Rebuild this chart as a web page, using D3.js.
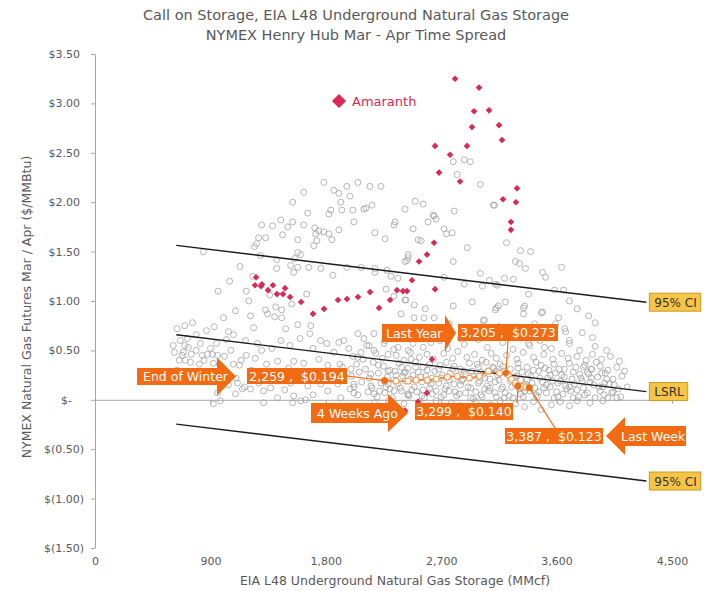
<!DOCTYPE html>
<html>
<head>
<meta charset="utf-8">
<script src="https://cdn.jsdelivr.net/npm/d3@7.9.0/dist/d3.min.js"></script>
<style>
  body { margin: 0; background: #fff; }
  svg { display: block; font-family: "DejaVu Sans", Verdana, sans-serif; }
</style>
</head>
<body>
<svg id="chart" width="717" height="591"></svg>
<script>
// ---- data (storage MMcf, Mar/Apr spread $/MMBtu) ----
const xTicks = [0, 900, 1800, 2700, 3600, 4500];
const yTicks = [-1.5, -1, -0.5, 0, 0.5, 1, 1.5, 2, 2.5, 3, 3.5];

// history, upper dome
const greyDome = [
  [1785,2.20],[1964,2.16],[2050,2.20],[2144,2.16],[2230,2.16],[1628,2.10],[1863,2.12],[1902,2.09],[1988,2.06],[1917,2.00],
  [1542,2.00],[2160,1.97],[2097,1.93],[2113,1.94],[2011,1.92],[1925,1.92],[1839,1.92],[1824,1.88],[1659,1.89],[2019,1.80],
  [1448,1.82],[1542,1.80],[1385,1.76],[1299,1.77],[1503,1.75],[1628,1.77],[1714,1.74],[1745,1.71],[1784,1.70],[1824,1.68],
  [1902,1.72],[1722,1.68],[1276,1.64],[1330,1.64],[1463,1.67],[1730,1.61],[1847,1.62],[1581,1.62],[1260,1.58],[1244,1.55],
  [1706,1.56],[2183,1.69],[2262,1.63],[2340,1.80],[2332,1.77],[2418,1.93],[2497,2.01],[2481,1.73],[2520,1.62],[845,1.50],
  [1581,1.49],[1604,1.47],[1291,1.46],[1417,1.42],[1557,1.43],[1526,1.36],[1581,1.34],[1667,1.34],[1761,1.33],[1964,1.34],
  [2074,1.34],[2183,1.33],[2183,1.29],[2277,1.31],[2309,1.25],[2363,1.23],[1417,1.33],[1550,1.29],[1855,1.26],[2270,1.12],
  [2332,1.05],[2418,1.01],[2442,1.44],[2434,1.41],[2489,0.96],[2387,0.87],[2489,0.83],[1651,1.07],[1534,0.97],[1409,0.94],
  [1456,0.91],[1330,0.91],[1346,0.87],[1401,0.84],[1456,0.83],[1096,0.90],[1002,0.83],[1213,0.85],[1362,1.06],[1050,1.20],
  [1130,1.35],[1180,1.10],[1230,1.25],[960,1.10],[1200,1.00]
];

// history, upper right
const greyRight = [
  [2794,2.41],[2880,2.43],[2927,2.41],[2825,2.28],[3005,2.18],[3107,1.97],[2802,1.91],[2559,1.98],[2637,1.87],[2661,1.83],
  [3115,1.97],[2645,1.86],[2598,1.80],[2723,1.73],[2786,1.69],[2740,1.68],[2418,1.40],[2442,1.47],[2543,1.61],[2904,1.54],
  [2794,1.40],[3209,1.59],[3318,1.51],[3397,1.50],[3279,1.40],[3310,1.38],[3357,1.33],[3639,1.34],[3490,1.29],[3514,1.24],
  [3005,1.28],[3193,1.23],[3263,1.22],[2880,1.17],[3021,1.15],[3076,1.21],[3123,1.17],[3138,1.16],[2723,1.24],[3584,1.11],
  [3655,1.11],[3381,1.07],[2426,1.01],[2942,0.99],[3123,0.91],[3146,0.95],[3201,0.99],[3350,0.95],[2794,0.95],[2575,0.92],
  [2645,0.83],[3037,0.81],[3342,0.87],[3490,0.89],[3428,0.77],[3615,0.83],[3592,0.77],[3522,0.73],[3663,0.72],[3670,0.69],
  [2567,0.83],[3130,0.93],[3342,0.93],[3482,0.88],[3028,0.80],[2762,0.77],[2410,0.67],[3381,0.57],[3506,0.53],[2560,0.70],
  [2950,0.72],[3150,0.74],[3400,0.70],[3580,0.73],[3800,0.68],[3880,0.63],[2700,0.66],[2850,0.62],[3250,0.65],[3700,0.60],
  [2620,0.58],[3050,0.64],[3700,1.00],[3760,0.92],[3850,0.85],[3900,0.78]
];

// history, left of the band
const greyLeft = [
  [665,0.60],[689,0.48],[658,0.40],[704,0.40],[751,0.46],[680,0.45],[728,0.53],[822,0.57],[877,0.46],[837,0.45],
  [916,0.46],[955,0.45],[814,0.36],[923,0.37],[970,0.36],[1581,0.76],[1683,0.75],[1675,0.67],[1487,0.72],[1237,0.73],
  [1041,0.69],[1080,0.66],[1025,0.61],[947,0.57],[1174,0.60],[1268,0.57],[1080,0.36],[1127,0.35],[1166,0.13],[1213,0.11],
  [1150,0.11],[1096,0.06],[978,-0.01],[923,-0.04],[1338,0.36],[1424,0.39],[1510,0.32],[1550,0.39],[1628,0.37],[1745,0.41],
  [1808,0.57],[1902,0.58],[1941,0.60],[2050,0.67],[2097,0.62],[2176,0.67],[2137,0.55],[2074,0.48],[1816,0.35],[1910,0.36],
  [1996,0.31],[2050,0.43],[1863,0.48],[2176,0.50],[2254,0.57],[2285,0.46],[2363,0.53],[2442,0.50],[2465,0.41],[1315,0.09],
  [1424,0.02],[1550,0.04],[1604,-0.01],[1315,-0.03],[1816,0.09],[1917,0.02],[2019,0.07],[2176,0.06],[2309,-0.01],[1659,0.14],
  [1761,0.16],[1894,0.16],[2019,0.16],[2152,0.14],[2285,0.16],[2332,0.09],[2442,0.06],[1111,0.17],[1276,0.17],[1424,0.19],
  [1526,0.17],[955,0.07],[1346,0.27],[1471,0.26],[1628,0.27],[1761,0.27],[1917,0.26],[2285,0.29],[2410,0.27],[640,0.72],
  [700,0.75],[760,0.78],[870,0.70],[930,0.74],[720,0.62],[790,0.66],[610,0.55],[640,0.30],[760,0.25],[860,0.22],
  [1000,0.28],[1040,0.15],[1100,0.22],[1180,0.45],[1250,0.42],[1300,0.50],[1380,0.52],[1450,0.60],[1520,0.55],[1600,0.62],
  [1700,0.52],[1760,0.60],[1542,-0.03],[1643,0.00],[620,0.48],[700,0.55],[745,0.38],[790,0.50],[850,0.40],[900,0.52],
  [1010,0.44],[1060,0.50],[1140,0.40],[1220,0.30],[1290,0.22],[1370,0.12],[1480,0.10],[1700,0.05],[1850,0.20],[1990,0.11]
];

// history, dense band
const greyBand = [
  [1980,0.52],[2120,0.55],[2260,0.60],[2330,0.51],[2480,0.57],[2560,0.53],[2690,0.60],[2750,0.52],[2880,0.56],[2990,0.61],
  [3060,0.53],[3180,0.58],[3260,0.51],[3390,0.55],[3470,0.60],[3560,0.52],[3700,0.57],[3780,0.50],[3900,0.54],[3990,0.50],
  [2010,0.44],[2090,0.41],[2190,0.47],[2240,0.42],[2350,0.45],[2410,0.40],[2460,0.48],[2530,0.43],[2590,0.46],[2640,0.41],
  [2720,0.47],[2790,0.42],[2830,0.49],[2900,0.43],[2960,0.46],[3020,0.40],[3090,0.47],[3130,0.42],[3210,0.45],[3290,0.41],
  [3340,0.48],[3420,0.43],[3500,0.46],[3570,0.41],[3640,0.47],[3690,0.42],[3760,0.44],[3830,0.40],[3880,0.46],[3950,0.41],
  [4020,0.44],[4090,0.39],[1930,0.33],[2040,0.36],[2110,0.31],[2170,0.38],[2250,0.34],[2300,0.30],[2370,0.37],[2440,0.32],
  [2500,0.38],[2560,0.33],[2610,0.36],[2680,0.31],[2740,0.38],[2800,0.34],[2850,0.31],[2920,0.37],[2990,0.33],[3050,0.38],
  [3110,0.32],[3160,0.36],[3240,0.31],[3300,0.37],[3370,0.33],[3440,0.38],[3510,0.32],[3580,0.36],[3620,0.31],[3700,0.37],
  [3750,0.33],[3820,0.35],[3870,0.31],[3940,0.34],[4000,0.30],[4070,0.33],[4130,0.29],[2000,0.24],[2060,0.28],[2140,0.22],
  [2210,0.27],[2280,0.23],[2340,0.29],[2400,0.24],[2460,0.21],[2520,0.28],[2580,0.24],[2650,0.29],[2700,0.22],[2770,0.27],
  [2830,0.23],[2880,0.29],[2950,0.24],[3010,0.28],[3080,0.21],[3140,0.25],[3190,0.29],[3270,0.23],[3330,0.28],[3400,0.24],
  [3460,0.29],[3530,0.22],[3590,0.27],[3660,0.23],[3730,0.28],[3790,0.22],[3850,0.26],[3920,0.23],[3980,0.27],[4040,0.21],
  [4110,0.24],[2020,0.13],[2080,0.18],[2160,0.12],[2230,0.17],[2300,0.11],[2360,0.16],[2420,0.19],[2490,0.13],[2550,0.18],
  [2610,0.12],[2680,0.17],[2730,0.11],[2800,0.16],[2860,0.19],[2930,0.12],[2990,0.17],[3040,0.11],[3120,0.18],[3180,0.13],
  [3240,0.19],[3310,0.11],[3360,0.16],[3430,0.12],[3490,0.18],[3550,0.13],[3610,0.17],[3680,0.11],[3740,0.16],[3810,0.12],
  [3860,0.18],[3930,0.13],[4010,0.16],[4080,0.11],[4150,0.13],[2050,0.05],[2130,0.08],[2200,0.03],[2260,0.07],[2320,0.02],
  [2390,0.09],[2450,0.04],[2510,0.08],[2570,0.02],[2630,0.06],[2700,0.03],[2760,0.09],[2820,0.04],[2890,0.07],[2950,0.01],
  [3010,0.05],[3070,0.09],[3130,0.03],[3200,0.07],[3260,0.02],[3320,0.06],[3390,0.09],[3450,0.03],[3520,0.07],[3580,0.02],
  [3650,0.06],[3710,0.09],[3770,0.03],[3840,0.07],[3900,0.02],[3970,0.05],[4040,0.08],[4100,0.03],[2180,-0.03],[2290,-0.01],
  [2410,-0.04],[2530,-0.02],[2600,-0.06],[2660,-0.01],[2780,-0.03],[2850,-0.06],[2970,-0.02],[3090,-0.05],[3160,-0.01],[3280,-0.04],
  [3350,-0.07],[3420,-0.02],[3480,-0.10],[3560,-0.05],[3630,-0.02],[3700,-0.06],[3760,-0.01],[3860,-0.03],[3960,-0.01],[4030,0.07],
  [4070,0.02],[3975,0.17],[3952,0.27],[3873,0.31]
];

// history, core of the band
const greyCore = [
  [2330,0.20],[2380,0.12],[2420,0.28],[2470,0.10],[2540,0.23],[2590,0.30],[2620,0.16],[2660,0.09],[2710,0.25],[2740,0.14],
  [2790,0.31],[2840,0.06],[2870,0.21],[2910,0.13],[2940,0.29],[2970,0.08],[3000,0.19],[3030,0.26],[3060,0.14],[3100,0.33],
  [3120,0.07],[3150,0.20],[3170,0.11],[3210,0.26],[3230,0.04],[3280,0.15],[3300,0.32],[3320,0.20],[3350,0.09],[3380,0.26],
  [3410,0.17],[3440,0.05],[3470,0.22],[3500,0.12],[3540,0.30],[3570,0.19],[3600,0.08],[3640,0.25],[3670,0.14],[3720,0.21],
  [3760,0.10],[3800,0.19],[3840,0.28],[3890,0.15],[3940,0.09],[3990,0.21],
  [2210,0.35],[2270,0.13],[2350,0.25],[2440,0.05],[2500,0.33],[2560,0.10],[2630,0.22],[2690,0.35],[2760,0.20],[2810,0.08],
  [2890,0.26],[2930,0.02],[2980,0.36],[3040,0.22],[3080,0.12],[3130,0.29],[3190,0.02],[3250,0.13],[3290,0.24],[3340,0.03],
  [3370,0.20],[3420,0.30],[3460,0.08],[3520,0.15],[3550,0.25],[3610,0.03],[3660,0.31],[3700,0.13],[3730,0.02],[3780,0.26],
  [3820,0.05],[3870,0.22],[3910,0.38],[3960,0.13],[4050,0.15],[2150,0.26],[2220,0.09],[2390,0.33],[2480,0.25],[2550,0.04],
  [2600,0.19],[2720,0.05],[2850,0.15],[3020,0.03],[3180,0.34],[3330,0.12],[3480,0.35],[3630,0.19],[3810,0.33],[4000,0.02]
];

// Amaranth year
const amaranth = [
  [2808,3.25],[2995,3.16],[3073,2.93],[2956,2.92],[2940,2.76],[3151,2.78],[3174,2.63],[2652,2.57],[2901,2.57],[2769,2.48],
  [2683,2.30],[2847,2.21],[3291,2.14],[3182,2.03],[3283,2.00],[3244,1.80],[3244,1.72],[2644,1.59],[2589,1.47],[2527,1.40],
  [2652,1.12],[2472,1.21],[2402,1.10],[2433,1.10],[2355,1.11],[2301,1.01],[2215,0.93],[2145,1.09],[2051,1.04],[1965,1.02],
  [1895,1.01],[1786,0.92],[1700,0.87],[1607,0.99],[1521,1.04],[1482,1.13],[1466,1.07],[1419,1.07],[1388,1.16],[1349,1.11],
  [1302,1.17],[1295,1.15],[1248,1.16],[1256,1.24],[2628,0.41],[2589,0.07],[2519,-0.02],[2418,-0.11]
];

// current year track
const trackX = [2259, 2348, 2442, 2504, 2590, 2661, 2747, 2825, 2919, 2997, 3068, 3154, 3225, 3248, 3279, 3299, 3330, 3360, 3387];
const trackY = [0.194, 0.19, 0.19, 0.20, 0.20, 0.21, 0.23, 0.24, 0.22, 0.24, 0.29, 0.27, 0.25, 0.21, 0.17, 0.140, 0.135, 0.13, 0.123];

// highlighted points
const calloutNames = ["End of Winter", "Last Year", "4 Weeks Ago", "Last Week"];
const calloutX = [2259, 3205, 3299, 3387];
const calloutY = [0.194, 0.273, 0.140, 0.123];

// least squares line and 95% band
const fitIntercept = 0.758;
const fitSlope = -0.000157;
const fitBand = 0.905;
const fitRange = [634, 4300];

// ---- chart ----
const svg = d3.select("#chart");
const grey = "#595959";
const axisGrey = "#a6a6a6";
const orange = "#f26b12";
const red = "#d92a55";

const x = d3.scaleLinear().domain([0, 4500]).range([95, 672]);
const y = d3.scaleLinear().domain([-1.5, 3.5]).range([548, 54]);

// title
svg.append("text")
  .attr("x", 356).attr("y", 20)
  .attr("text-anchor", "middle")
  .attr("font-size", "14.5px")
  .attr("fill", grey)
  .text("Call on Storage, EIA L48 Underground Natural Gas Storage");
svg.append("text")
  .attr("x", 356).attr("y", 40)
  .attr("text-anchor", "middle")
  .attr("font-size", "14.5px")
  .attr("fill", grey)
  .text("NYMEX Henry Hub Mar - Apr Time Spread");

// y axis
const yFmt = v => v === 0 ? "$-" : v > 0 ? `$${v.toFixed(2)}` : `$(${Math.abs(v).toFixed(2)})`;
const yAxis = svg.append("g")
  .attr("transform", `translate(${x(0)},0)`)
  .call(d3.axisLeft(y).tickValues(yTicks).tickSize(4).tickSizeOuter(0).tickPadding(11).tickFormat(yFmt));
yAxis.attr("font-family", null).attr("font-size", null);
yAxis.select(".domain").attr("stroke", axisGrey);
yAxis.selectAll(".tick line").attr("stroke", axisGrey);
yAxis.selectAll(".tick text")
  .attr("fill", grey)
  .attr("font-size", "11px")
  .attr("dx", d => d < 0 ? 4 : d === 0 ? -8 : 0);

// x axis line at zero
const xAxis = svg.append("g")
  .attr("transform", `translate(0,${y(0)})`)
  .call(d3.axisBottom(x).tickValues(xTicks).tickSize(4).tickSizeOuter(0).tickFormat(""));
xAxis.select(".domain").attr("stroke", axisGrey);
xAxis.selectAll(".tick line").attr("stroke", axisGrey);

// x labels at the bottom
const xLabels = svg.append("g")
  .attr("transform", `translate(0,${y(-1.5) + 7})`)
  .call(d3.axisBottom(x).tickValues(xTicks).tickSize(0).tickPadding(2).tickFormat(d3.format(",")));
xLabels.attr("font-family", null).attr("font-size", null);
xLabels.select(".domain").remove();
xLabels.selectAll(".tick text").attr("fill", grey).attr("font-size", "11px");

// axis titles
svg.append("text")
  .attr("x", 395).attr("y", 585)
  .attr("text-anchor", "middle")
  .attr("font-size", "12.5px")
  .attr("fill", grey)
  .text("EIA L48 Underground Natural Gas Storage (MMcf)");
svg.append("text")
  .attr("transform", "translate(31,307) rotate(-90)")
  .attr("text-anchor", "middle")
  .attr("font-size", "12.5px")
  .attr("fill", grey)
  .text("NYMEX Natural Gas Futures Mar / Apr ($/MMBtu)");

// history points
const history = greyDome.concat(greyRight, greyLeft, greyBand, greyCore);
svg.append("g").selectAll("circle")
  .data(history)
  .enter()
  .append("circle")
  .attr("cx", d => x(d[0]))
  .attr("cy", d => y(d[1]))
  .attr("r", 3)
  .attr("fill", "none")
  .attr("stroke", "#a3a3a3")
  .attr("stroke-width", 0.8);

// regression lines and labels
const fitLines = [
  { off: fitBand, label: "95% CI" },
  { off: 0, label: "LSRL" },
  { off: -fitBand, label: "95% CI" }
];
const fitVal = (v, off) => fitIntercept + fitSlope * v + off;
fitLines.forEach(f => {
  svg.append("line")
    .attr("x1", x(fitRange[0])).attr("y1", y(fitVal(fitRange[0], f.off)))
    .attr("x2", x(fitRange[1])).attr("y2", y(fitVal(fitRange[1], f.off)))
    .attr("stroke", "#1a1a1a")
    .attr("stroke-width", 1.4);

  const ex = x(fitRange[1]) + 3;
  const ey = y(fitVal(fitRange[1], f.off));
  const g = svg.append("g");
  const rect = g.append("rect")
    .attr("y", ey - 9).attr("height", 18)
    .attr("fill", "#f6c546")
    .attr("stroke", "#c99a2a")
    .attr("stroke-width", 1);
  const t = g.append("text")
    .attr("x", ex + 5).attr("y", ey + 4.5)
    .attr("font-size", "12px")
    .attr("fill", "#333")
    .text(f.label);
  const w = t.node().getComputedTextLength();
  rect.attr("x", ex).attr("width", w + 9);
});

// Amaranth points
const diamond = d3.symbol().type(d3.symbolSquare);
svg.append("g").selectAll("path")
  .data(amaranth)
  .enter()
  .append("path")
  .attr("d", diamond.size(22)())
  .attr("transform", d => `translate(${x(d[0])},${y(d[1])}) rotate(45)`)
  .attr("fill", red);

// Amaranth legend
svg.append("path")
  .attr("d", d3.symbol().type(d3.symbolSquare).size(100)())
  .attr("transform", "translate(339,101) rotate(45)")
  .attr("fill", red);
svg.append("text")
  .attr("x", 352).attr("y", 106)
  .attr("font-size", "13px")
  .attr("fill", red)
  .text("Amaranth");

// current track
const track = trackX.map((v, i) => [v, trackY[i]]);
svg.append("path")
  .datum(track)
  .attr("fill", "none")
  .attr("stroke", orange)
  .attr("stroke-width", 1.2)
  .attr("d", d3.line().x(d => x(d[0])).y(d => y(d[1])));
svg.append("g").selectAll("circle")
  .data(track)
  .enter()
  .append("circle")
  .attr("cx", d => x(d[0]))
  .attr("cy", d => y(d[1]))
  .attr("r", 3)
  .attr("fill", "#fff")
  .attr("stroke", "#f5a25e")
  .attr("stroke-width", 1.2);

// callouts
const valueBoxes = [
  { x: 247, y: 368, w: 100, h: 16, lx: 347, ly: 376 },
  { x: 458, y: 324, w: 100, h: 17, lx: 508, ly: 341 },
  { x: 415, y: 403, w: 98, h: 17, lx: 517, ly: 403 },
  { x: 505, y: 428, w: 98, h: 16, lx: 555, ly: 428 }
];
const arrows = [
  { dir: 1, x0: 137, x1: 217, tip: 236, yc: 376.5, bh: 17, hh: 38, tx: 143 },
  { dir: 1, x0: 382, x1: 445, tip: 456, yc: 333, bh: 18, hh: 36, tx: 386 },
  { dir: 1, x0: 311, x1: 388, tip: 408, yc: 413, bh: 20, hh: 38, tx: 317 },
  { dir: -1, x0: 686, x1: 625, tip: 606, yc: 436, bh: 20, hh: 38, tx: 621 }
];
const fmtX = d3.format(",");

calloutX.forEach((cx, i) => {
  const b = valueBoxes[i];
  const px = x(cx), py = y(calloutY[i]);

  svg.append("line")
    .attr("x1", b.lx).attr("y1", b.ly)
    .attr("x2", px).attr("y2", py)
    .attr("stroke", orange)
    .attr("stroke-width", 1.2);

  svg.append("circle")
    .attr("cx", px).attr("cy", py)
    .attr("r", 3.2)
    .attr("fill", orange);

  svg.append("rect")
    .attr("x", b.x).attr("y", b.y)
    .attr("width", b.w).attr("height", b.h)
    .attr("fill", orange);
  svg.append("text")
    .attr("x", b.x + b.w / 2).attr("y", b.y + b.h / 2 + 4.5)
    .attr("text-anchor", "middle")
    .attr("font-size", "12.5px")
    .attr("fill", "#fff")
    .attr("xml:space", "preserve")
    .text(`${fmtX(cx)} ,  $${calloutY[i].toFixed(3)}`);

  const a = arrows[i];
  const p = d3.path();
  p.moveTo(a.x0, a.yc - a.bh / 2);
  p.lineTo(a.x1, a.yc - a.bh / 2);
  p.lineTo(a.x1, a.yc - a.hh / 2);
  p.lineTo(a.tip, a.yc);
  p.lineTo(a.x1, a.yc + a.hh / 2);
  p.lineTo(a.x1, a.yc + a.bh / 2);
  p.lineTo(a.x0, a.yc + a.bh / 2);
  p.closePath();
  svg.append("path").attr("d", p.toString()).attr("fill", orange);
  svg.append("text")
    .attr("x", a.tx).attr("y", a.yc + 4.5)
    .attr("font-size", "12.5px")
    .attr("fill", "#fff")
    .text(calloutNames[i]);
});
</script>
</body>
</html>
